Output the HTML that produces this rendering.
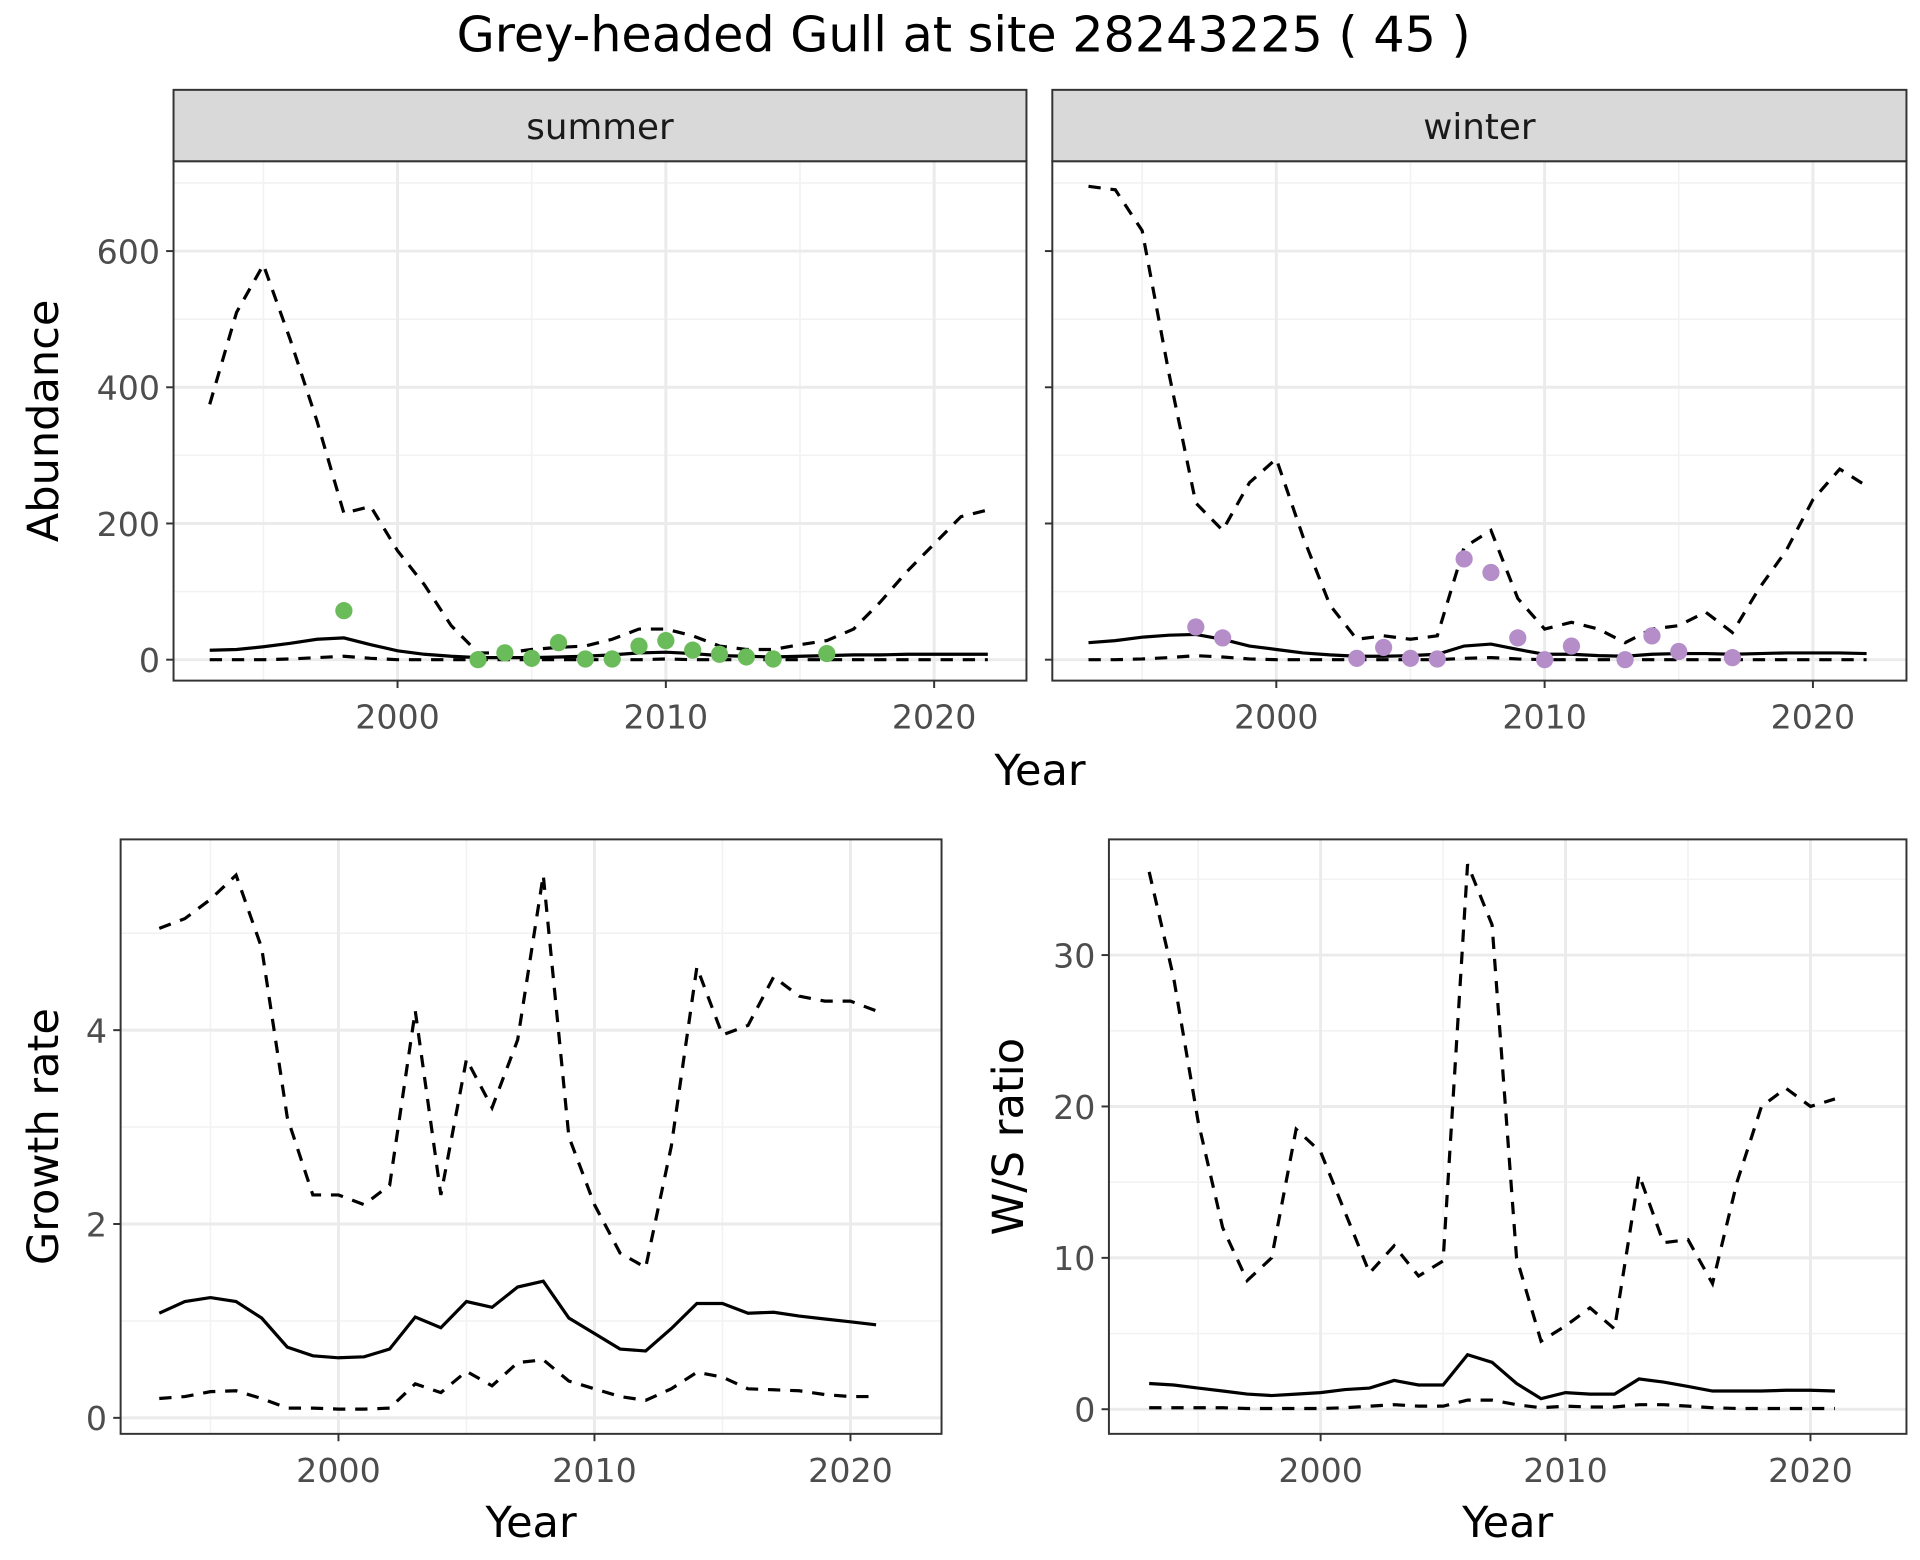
<!DOCTYPE html>
<html><head><meta charset="utf-8"><style>
html,body{margin:0;padding:0;background:#fff;}
svg{display:block;font-family:"DejaVu Sans","Liberation Sans",sans-serif;}
</style></head><body>
<svg id="c" width="1920" height="1560" viewBox="0 0 1560 1267.5" preserveAspectRatio="none" xmlns="http://www.w3.org/2000/svg">
<text x="783" y="42" font-size="40" text-anchor="middle" fill="#000">Grey-headed Gull at site 28243225 ( 45 )</text>
</svg>
<script>
const yearsTop = [1993,1994,1995,1996,1997,1998,1999,2000,2001,2002,2003,2004,2005,2006,2007,2008,2009,2010,2011,2012,2013,2014,2015,2016,2017,2018,2019,2020,2021,2022];
const summerUpper = [375,510,580,470,350,215,225,160,110,50,10,10,15,18,20,30,45,45,35,20,15,15,22,28,45,85,130,170,210,220];
const summerMean = [14,15,19,24,30,32,22,13,8,5,3,3,3,4,5,7,10,11,9,6,5,4,5,6,7,7,8,8,8,8];
const summerLower = [0,0,0,1,3,5,2,0,0,0,0,0,0,0,0,0,0,1,0,0,0,0,0,0,0,0,0,0,0,0];
const summerPtYears = [1998,2003,2004,2005,2006,2007,2008,2009,2010,2011,2012,2013,2014,2016];
const summerPts = [72,0,10,2,25,1,1,20,28,14,8,4,1,9];
const winterUpper = [695,690,630,420,230,190,260,295,180,80,30,35,30,35,165,190,90,45,55,45,25,45,50,70,40,105,160,235,280,255];
const winterMean = [25,28,33,36,37,30,20,15,10,7,5,5,6,8,20,23,15,8,8,6,5,8,9,9,8,9,10,10,10,9];
const winterLower = [0,0,1,3,6,4,1,0,0,0,0,0,0,0,2,3,1,0,0,0,0,0,0,0,0,0,0,0,0,0];
const winterPtYears = [1997,1998,2003,2004,2005,2006,2007,2008,2009,2010,2011,2013,2014,2015,2017];
const winterPts = [48,32,2,18,2,1,148,128,32,0,20,0,35,12,3];
const yearsBot = [1993,1994,1995,1996,1997,1998,1999,2000,2001,2002,2003,2004,2005,2006,2007,2008,2009,2010,2011,2012,2013,2014,2015,2016,2017,2018,2019,2020,2021];
const growthUpper = [5.05,5.15,5.35,5.6,4.85,3.1,2.3,2.3,2.2,2.4,4.2,2.3,3.7,3.2,3.9,5.6,2.9,2.2,1.7,1.55,2.8,4.65,3.95,4.05,4.55,4.35,4.3,4.3,4.2];
const growthMean = [1.08,1.2,1.24,1.2,1.03,0.73,0.64,0.62,0.63,0.71,1.04,0.93,1.2,1.14,1.35,1.41,1.03,0.87,0.71,0.69,0.92,1.18,1.18,1.08,1.09,1.05,1.02,0.99,0.96];
const growthLower = [0.2,0.22,0.27,0.28,0.2,0.1,0.1,0.09,0.09,0.1,0.35,0.26,0.48,0.33,0.57,0.6,0.38,0.3,0.22,0.18,0.3,0.47,0.42,0.3,0.29,0.28,0.24,0.22,0.22];
const ratioUpper = [35.5,28.5,19,12,8.5,10,18.5,17,13,9,10.8,8.8,9.8,36,32,10,4.5,5.5,6.7,5.3,15.5,11,11.2,8.3,15,20,21.2,20,20.5];
const ratioMean = [1.7,1.6,1.4,1.2,1.0,0.9,1.0,1.1,1.3,1.4,1.9,1.6,1.6,3.6,3.1,1.7,0.7,1.1,1.0,1.0,2.0,1.8,1.5,1.2,1.2,1.2,1.25,1.25,1.2];
const ratioLower = [0.1,0.1,0.1,0.1,0.05,0.05,0.05,0.05,0.1,0.2,0.3,0.2,0.2,0.6,0.6,0.3,0.1,0.2,0.15,0.15,0.3,0.3,0.2,0.1,0.05,0.05,0.05,0.05,0.05];
const xTicks = [2000,2010,2020];
const xMinor = [1995,2005,2015];
const abTicks = [0,200,400,600];
const abMinor = [100,300,500,700];
const grTicks = [0,2,4];
const grMinor = [1,3,5];
const raTicks = [0,10,20,30];
const raMinor = [5,15,25,35];

const svg = document.getElementById('c');
const NS = 'http://www.w3.org/2000/svg';
function mk(tag, attrs, parent){const e=document.createElementNS(NS,tag);for(const k in attrs)e.setAttribute(k,attrs[k]);(parent||svg).appendChild(e);return e;}
function lin(d0,d1,r0,r1){return v=>r0+(v-d0)*(r1-r0)/(d1-d0);}

function panel(o){
  const g=mk('g',{});
  
  
  const x=lin(2000,2010,o.x2000,o.x2010), y=lin(o.ya,o.yb,o.pya,o.pyb);
  mk('rect',{x:o.l,y:o.t,width:o.r-o.l,height:o.b-o.t,fill:'#fff'},g);
  o.xMinor.forEach(v=>mk('line',{x1:x(v),x2:x(v),y1:o.t,y2:o.b,stroke:'#f2f2f2','stroke-width':1.3},g));
  o.yMinor.forEach(v=>{if(y(v)>o.t)mk('line',{x1:o.l,x2:o.r,y1:y(v),y2:y(v),stroke:'#f2f2f2','stroke-width':1.3},g);});
  o.xTicks.forEach(v=>mk('line',{x1:x(v),x2:x(v),y1:o.t,y2:o.b,stroke:'#ebebeb','stroke-width':2.4},g));
  o.yTicks.forEach(v=>mk('line',{x1:o.l,x2:o.r,y1:y(v),y2:y(v),stroke:'#ebebeb','stroke-width':2.4},g));
  function path(xs,ys,dash,nm){const p=mk('path',{d:xs.map((v,i)=>(i?'L':'M')+x(v).toFixed(1)+','+y(ys[i]).toFixed(1)).join(''),fill:'none',stroke:'#000','stroke-width':2.6,'stroke-dasharray':dash?'10,8':'none'},g);}
  path(o.years,o.upper,true,'upper-ci-line');
  path(o.years,o.lower,true,'lower-ci-line');
  path(o.years,o.mean,false,'mean-line');
  if(o.pts){o.ptYears.forEach((v,i)=>{const c=mk('circle',{cx:x(v),cy:y(o.pts[i]),r:7,fill:o.col},g);});}
  mk('rect',{x:o.l,y:o.t,width:o.r-o.l,height:o.b-o.t,fill:'none',stroke:'#333','stroke-width':1.6},g);
  o.xTicks.forEach(v=>{mk('line',{x1:x(v),x2:x(v),y1:o.b,y2:o.b+6,stroke:'#333','stroke-width':1.6},g);const t=mk('text',{x:x(v),y:o.b+39,'font-size':27,'text-anchor':'middle',fill:'#4d4d4d'},g);t.textContent=v;});
  if(o.yLabels)o.yTicks.forEach(v=>{mk('line',{x1:o.l-6,x2:o.l,y1:y(v),y2:y(v),stroke:'#333','stroke-width':1.6},g);const t=mk('text',{x:o.l-11,y:y(v)+10,'font-size':27,'text-anchor':'end',fill:'#4d4d4d'},g);t.textContent=v;});
  else o.yTicks.forEach(v=>mk('line',{x1:o.l-6,x2:o.l,y1:y(v),y2:y(v),stroke:'#333','stroke-width':1.6},g));
  if(o.strip){const s=mk('rect',{x:o.l,y:73,width:o.r-o.l,height:58,fill:'#d9d9d9',stroke:'#333','stroke-width':1.6},g);const t=mk('text',{x:(o.l+o.r)/2,y:113,'font-size':29,'text-anchor':'middle',fill:'#1a1a1a'},g);t.textContent=o.strip;}
  if(o.ytitle){const t=mk('text',{x:0,y:0,'font-size':35,'text-anchor':'middle',fill:'#000',transform:`translate(${o.ytx},${(o.t+o.b)/2}) rotate(-90)`},g);t.textContent=o.ytitle;}
  if(o.xtitle){const t=mk('text',{x:(o.l+o.r)/2,y:o.b+84,'font-size':35,'text-anchor':'middle',fill:'#000'},g);t.textContent='Year';}
}
panel({name:'summer-panel',l:141,r:834,t:131,b:553,x2000:323,x2010:541,ya:0,yb:600,pya:536,pyb:204,years:yearsTop,upper:summerUpper,mean:summerMean,lower:summerLower,ptYears:summerPtYears,pts:summerPts,col:'#6abb59',xTicks,xMinor,yTicks:abTicks,yMinor:abMinor,yLabels:true,strip:'summer',ytitle:'Abundance',ytx:47});
panel({name:'winter-panel',l:855,r:1549,t:131,b:553,x2000:1037,x2010:1255,ya:0,yb:600,pya:536,pyb:204,years:yearsTop,upper:winterUpper,mean:winterMean,lower:winterLower,ptYears:winterPtYears,pts:winterPts,col:'#b58ec9',xTicks,xMinor,yTicks:abTicks,yMinor:abMinor,yLabels:false,strip:'winter'});
const yt=mk('text',{x:845,y:638,'font-size':35,'text-anchor':'middle',fill:'#000'});yt.textContent='Year';


panel({name:'growth-rate-panel',l:98,r:765,t:682,b:1165,x2000:275,x2010:483,ya:0,yb:4,pya:1152,pyb:837,years:yearsBot,upper:growthUpper,mean:growthMean,lower:growthLower,xTicks,xMinor,yTicks:grTicks,yMinor:grMinor,yLabels:true,ytitle:'Growth rate',ytx:47,xtitle:true});
panel({name:'ws-ratio-panel',l:901,r:1549,t:682,b:1165,x2000:1073,x2010:1272,ya:0,yb:30,pya:1145,pyb:776,years:yearsBot,upper:ratioUpper,mean:ratioMean,lower:ratioLower,xTicks,xMinor,yTicks:raTicks,yMinor:raMinor,yLabels:true,ytitle:'W/S ratio',ytx:831,xtitle:true});
</script>
</body></html>
